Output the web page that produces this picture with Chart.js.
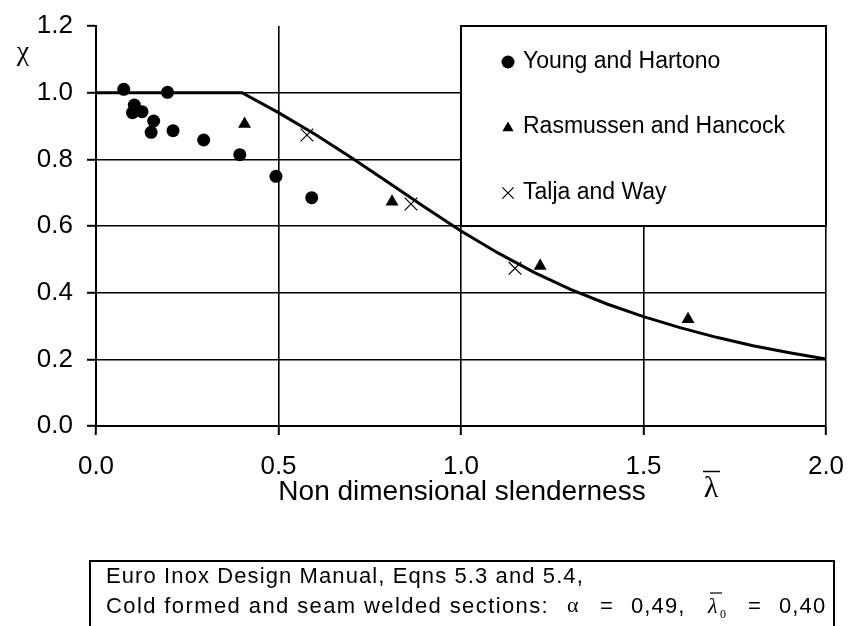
<!DOCTYPE html>
<html>
<head>
<meta charset="utf-8">
<script src="https://cdn.jsdelivr.net/npm/chart.js@4.4.1/dist/chart.umd.min.js"></script>
<style>
html,body{margin:0;padding:0;background:#fff;}
#wrap{width:848px;height:626px;position:relative;overflow:hidden;}
</style>
</head>
<body>
<div id="wrap"><canvas id="c" width="848" height="626"></canvas></div>
<script>
// ---- data ----
const xTickLabels = ['0.0', '0.5', '1.0', '1.5', '2.0'];
const yTickLabels = ['0.0', '0.2', '0.4', '0.6', '0.8', '1.0', '1.2'];

const youngX = [0.076, 0.196, 0.105, 0.100, 0.126, 0.158, 0.151, 0.211, 0.295, 0.394, 0.493, 0.591];
const youngY = [1.010, 1.001, 0.963, 0.940, 0.943, 0.915, 0.881, 0.886, 0.858, 0.814, 0.749, 0.685];

const rasX = [0.407, 0.811, 1.217, 1.622];
const rasY = [0.906, 0.673, 0.480, 0.320];

const taljaX = [0.578, 0.863, 1.148];
const taljaY = [0.873, 0.666, 0.473];

// design curve
const curveX = [0.0, 0.4, 0.5, 0.6, 0.7, 0.8, 0.9, 1.0, 1.1, 1.2, 1.3, 1.4, 1.5, 1.6, 1.7, 1.8, 1.9, 2.0];
const curveY = [1.000, 1.000, 0.940, 0.875, 0.805, 0.731, 0.657, 0.585, 0.520, 0.461, 0.410, 0.366, 0.328, 0.295, 0.266, 0.241, 0.220, 0.201];

const seriesNames = ['Young and Hartono', 'Rasmussen and Hancock', 'Talja and Way'];
const xTitle = 'Non dimensional slenderness';
const noteLine1 = 'Euro Inox Design Manual, Eqns 5.3 and 5.4,';
const noteLine2 = 'Cold formed and seam welded sections:';

const pts = (xs, ys) => xs.map((v, i) => ({x: v, y: ys[i]}));

const SANS = "'Liberation Sans', Arial, sans-serif";
const SERIF = "'Liberation Serif', 'Times New Roman', serif";

function drawMarker(ctx, style, x, y, r) {
  ctx.save();
  ctx.fillStyle = '#000';
  ctx.strokeStyle = '#000';
  ctx.beginPath();
  if (style === 'circle') {
    ctx.arc(x, y, r, 0, Math.PI * 2);
    ctx.fill();
  } else if (style === 'triangle') {
    ctx.moveTo(x, y - r);
    ctx.lineTo(x + 0.866 * r, y + 0.5 * r);
    ctx.lineTo(x - 0.866 * r, y + 0.5 * r);
    ctx.closePath();
    ctx.fill();
  } else {
    const d = r * 0.7071;
    ctx.lineWidth = 1.2;
    ctx.moveTo(x - d, y - d); ctx.lineTo(x + d, y + d);
    ctx.moveTo(x + d, y - d); ctx.lineTo(x - d, y + d);
    ctx.stroke();
  }
  ctx.restore();
}

const decor = {
  id: 'decor',
  afterDatasetsDraw(chart) {
    const {ctx, chartArea: a, scales: {x, y}} = chart;
    ctx.save();
    // legend box covering the upper right grid cells
    const lx = x.getPixelForValue(1.0), ly = a.top;
    const rx = a.right, by = y.getPixelForValue(0.6);
    ctx.fillStyle = '#fff';
    ctx.fillRect(lx, ly, rx - lx, by - ly);
    ctx.strokeStyle = '#000';
    ctx.lineWidth = 2;
    ctx.strokeRect(lx, ly, rx - lx, by - ly);
    const styles = ['circle', 'triangle', 'cross'];
    const sizes = [6.5, 6.5, 8];
    const rowY = [62, 127, 193];
    ctx.fillStyle = '#000';
    ctx.font = '23px ' + SANS;
    ctx.textBaseline = 'middle';
    ctx.textAlign = 'left';
    seriesNames.forEach((n, i) => {
      drawMarker(ctx, styles[i], lx + 47, rowY[i] + (i === 1 ? 1 : 0), sizes[i]);
      ctx.fillStyle = '#000';
      ctx.fillText(n, lx + 62, rowY[i]);
    });

    // y axis symbol chi
    ctx.font = '28px ' + SERIF;
    ctx.textAlign = 'center';
    ctx.fillText('\u03C7', 23, 53);

    // x axis title
    ctx.font = '28px ' + SANS;
    ctx.textAlign = 'center';
    ctx.fillText(xTitle, 462, 492);
    // lambda bar
    ctx.font = '30px ' + SERIF;
    ctx.fillText('\u03BB', 711, 489);
    ctx.lineWidth = 1.5;
    ctx.beginPath();
    ctx.moveTo(703, 471.5); ctx.lineTo(720, 471.5);
    ctx.stroke();

    // footnote box
    ctx.lineWidth = 2;
    ctx.strokeRect(90, 561, 744, 90);
    ctx.textAlign = 'left';
    ctx.font = '22px ' + SANS;
    try { ctx.letterSpacing = '1.1px'; } catch (e) {}
    ctx.fillText(noteLine1, 106, 577);
    try { ctx.letterSpacing = '1.4px'; } catch (e) {}
    ctx.fillText(noteLine2, 106, 607);
    try { ctx.letterSpacing = '1.1px'; } catch (e) {}
    ctx.fillText('=', 600, 607);
    ctx.fillText('0,49,', 631, 607);
    ctx.fillText('=', 748, 607);
    ctx.fillText('0,40', 779, 607);
    try { ctx.letterSpacing = '0px'; } catch (e) {}
    ctx.font = '22px ' + SERIF;
    ctx.fillText('\u03B1', 567, 606);
    ctx.font = 'italic 22px ' + SERIF;
    ctx.fillText('\u03BB', 708, 607);
    ctx.font = '12px ' + SERIF;
    ctx.fillText('0', 720, 615);
    ctx.lineWidth = 1.2;
    ctx.beginPath();
    ctx.moveTo(710, 593); ctx.lineTo(722, 593);
    ctx.stroke();
    ctx.restore();
  }
};

new Chart(document.getElementById('c'), {
  type: 'scatter',
  data: {
    datasets: [
      {
        label: 'curve',
        type: 'line',
        data: pts(curveX, curveY),
        borderColor: '#000',
        borderWidth: 3,
        pointRadius: 0,
        tension: 0,
        fill: false,
        order: 4
      },
      {
        label: seriesNames[0],
        data: pts(youngX, youngY),
        pointStyle: 'circle',
        pointRadius: 6.5,
        backgroundColor: '#000',
        borderColor: '#000',
        borderWidth: 0,
        order: 1
      },
      {
        label: seriesNames[1],
        data: pts(rasX, rasY),
        pointStyle: 'triangle',
        pointRadius: 7.5,
        backgroundColor: '#000',
        borderColor: '#000',
        borderWidth: 0,
        order: 2
      },
      {
        label: seriesNames[2],
        data: pts(taljaX, taljaY),
        pointStyle: 'crossRot',
        pointRadius: 9,
        backgroundColor: '#000',
        borderColor: '#000',
        borderWidth: 1.2,
        order: 3
      }
    ]
  },
  options: {
    responsive: false,
    animation: false,
    devicePixelRatio: 1,
    layout: {padding: {top: 26, right: 22, left: 0, bottom: 0}},
    plugins: {legend: {display: false}, tooltip: {enabled: false}},
    scales: {
      x: {
        type: 'linear',
        min: 0, max: 2,
        afterFit(s) { s.height = 200; s.paddingLeft = 0; s.paddingRight = 0; },
        ticks: {
          stepSize: 0.5,
          padding: 16,
          color: '#000',
          font: {size: 26, family: SANS},
          maxRotation: 0,
          callback: (v) => xTickLabels[Math.round(v / 0.5)]
        },
        grid: {color: '#000', lineWidth: 1.6, tickLength: 9, tickColor: '#000', tickWidth: 2},
        border: {display: true, color: '#000', width: 2}
      },
      y: {
        type: 'linear',
        min: 0, max: 1.2,
        afterFit(s) { s.width = 96; s.paddingTop = 0; s.paddingBottom = 0; },
        ticks: {
          stepSize: 0.2,
          padding: 14,
          color: '#000',
          font: {size: 26, family: SANS},
          callback: (v) => yTickLabels[Math.round(v / 0.2)]
        },
        grid: {
          color: (c) => (c.tick && c.tick.value > 1.19) ? 'rgba(0,0,0,0)' : '#000',
          lineWidth: 1.6, tickLength: 9, tickColor: '#000', tickWidth: 2
        },
        border: {display: true, color: '#000', width: 2}
      }
    }
  },
  plugins: [decor]
});
</script>
</body>
</html>
